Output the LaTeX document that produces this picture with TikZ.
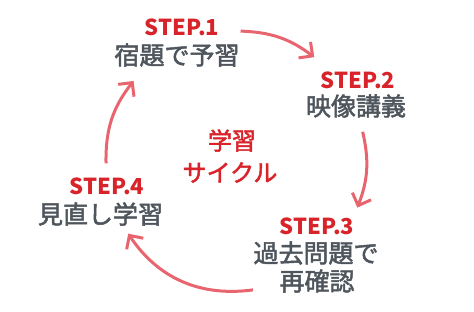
\documentclass[tikz,border=0pt]{standalone}
\usepackage{fontspec}
\setmainfont{Noto Sans CJK JP}
\newfontfamily\jpmed[FakeBold=2]{Noto Sans CJK JP}
\usetikzlibrary{arrows.meta,calc}
\definecolor{stepred}{HTML}{D8232A}
\definecolor{txtgray}{HTML}{4E555C}
\definecolor{arrred}{HTML}{E8656F}
\begin{document}
\begin{tikzpicture}[x=1pt,y=1pt,
  steplabel/.style={text=stepred,font=\fontsize{22}{22}\selectfont\bfseries,inner sep=0pt},
  steptext/.style={text=txtgray,font=\fontsize{25}{25}\jpmed,inner sep=0pt},
  centertext/.style={text=stepred,font=\fontsize{24}{24}\jpmed,inner sep=0pt},
  cyc/.style={draw=arrred,line width=3pt,-{Straight Barb[length=10pt,width=20pt]}}]
\useasboundingbox (0,0) rectangle (474,311);
\coordinate (C) at (236,150);
% steps
\node[steplabel] (s1) at (182,283.5) {STEP.1};
\node[steptext] (t1) at (177,256) {宿題で予習};
\node[steplabel] (s2) at (358,231) {STEP.2};
\node[steptext] (t2) at (356,205) {映像講義};
\node[steplabel] (s3) at (317,85) {STEP.3};
\node[steptext] (t3a) at (316,58) {過去問題で};
\node[steptext] (t3b) at (317,30) {再確認};
\node[steplabel] (s4) at (107,125) {STEP.4};
\node[steptext] (t4) at (100.5,97) {見直し学習};
\node[centertext] (c1) at (232,170.5) {学習};
\node[centertext] (c2) at (230,138.5) {サイクル};
% arrows
\coordinate (a1s) at ($(C)+(88:130)$);
\coordinate (a1e) at ($(C)+(53:130)$);
\coordinate (a2s) at ($(C)+(13:130)$);
\coordinate (a2e) at ($(C)+(-21:130)$);
\coordinate (a3s) at ($(C)+(-82.5:130)$);
\coordinate (a3e) at ($(C)+(-146:130)$);
\coordinate (a4s) at ($(C)+(181:130)$);
\coordinate (a4e) at ($(C)+(142:130)$);
\draw[cyc] (a1s) to[bend left=17.5] (a1e);
\draw[cyc] (a2s) to[bend left=17] (a2e);
\draw[cyc] (a3s) to[bend left=32] (a3e);
\draw[cyc] (a4s) to[bend left=19.5] (a4e);
\end{tikzpicture}
\end{document}
